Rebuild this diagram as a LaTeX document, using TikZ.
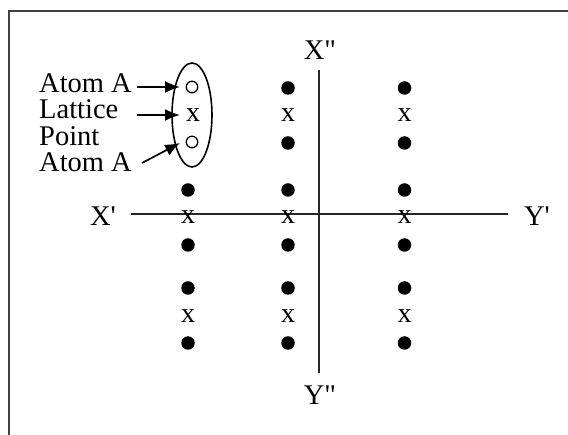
\documentclass[tikz,border=0pt]{standalone}
\usepackage{fontspec}
\setmainfont{Liberation Serif}
\usetikzlibrary{arrows.meta,shapes.geometric}
\begin{document}
\begin{tikzpicture}[x=1pt,y=-1pt,
  lbl/.style={font=\fontsize{28.5}{32}\selectfont, inner sep=0pt},
  lat/.style={font=\fontsize{28}{32}\selectfont, inner sep=0pt},
  dot/.style={circle, fill=black, minimum size=13.5pt, inner sep=0pt},
  ring/.style={circle, draw, line width=1.3pt, minimum size=11.5pt, inner sep=0pt},
  axis/.style={line width=1.7pt, draw=black!85},
  arr/.style={line width=1.7pt, -{Latex[length=15pt,width=12pt]}},
  frame/.style={line width=1.8pt, draw=black!75}]
\useasboundingbox (0,0) rectangle (568,435);
% frame
\coordinate (f1) at (9,435);
\coordinate (f2) at (9,11);
\coordinate (f3) at (568,11);
\draw[frame] (f1) -- (f2) -- (f3);
% axes
\coordinate (vt) at (319,70);
\coordinate (vb) at (319,373);
\coordinate (hl) at (131,214);
\coordinate (hr) at (508,214);
\draw[axis] (vt) -- (vb);
\draw[axis] (hl) -- (hr);
\node[lbl] (xpp) at (320,50) {X\textquotedbl};
\node[lbl] (ypp) at (320,395) {Y\textquotedbl};
\node[lbl] (xp) at (103,216) {X\textquotesingle};
\node[lbl] (yp) at (537,216) {Y\textquotesingle};
% lattice columns
\foreach \c/\xx in {2/288,3/404.5}{
  \node[dot] (t1\c) at (\xx,88) {};
  \node[lat] (tx\c) at (\xx,115) {x};
  \node[dot] (t2\c) at (\xx,143) {};
}
\foreach \c/\xx in {1/188,2/288,3/404.5}{
  \node[dot] (m1\c) at (\xx,190) {};
  \node[lat] (mx\c) at (\xx,217) {x};
  \node[dot] (m2\c) at (\xx,245) {};
  \node[dot] (b1\c) at (\xx,288) {};
  \node[lat] (bx\c) at (\xx,316) {x};
  \node[dot] (b2\c) at (\xx,343) {};
}
% basis in ellipse
\node[ring] (r1) at (192,87) {};
\node[lat] (rx) at (193,115) {x};
\node[ring] (r2) at (192,142) {};
\node[draw, ellipse, line width=1.6pt, minimum width=40pt, minimum height=104pt, inner sep=0pt] (ell) at (192,115) {};
% labels
\node[lbl, anchor=west] (la1) at (39,83) {Atom A};
\node[lbl, anchor=west] (la2) at (39,109) {Lattice};
\node[lbl, anchor=west] (la3) at (39,136) {Point};
\node[lbl, anchor=west] (la4) at (39,162) {Atom A};
\coordinate (s1) at (137,87);
\coordinate (s2) at (137,115);
\coordinate (s3) at (142,163);
\coordinate (e1) at (180,87);
\coordinate (e2) at (180,115);
\coordinate (e3) at (180,143);
\draw[arr] (s1) -- (e1);
\draw[arr] (s2) -- (e2);
\draw[arr] (s3) -- (e3);
\end{tikzpicture}
\end{document}
